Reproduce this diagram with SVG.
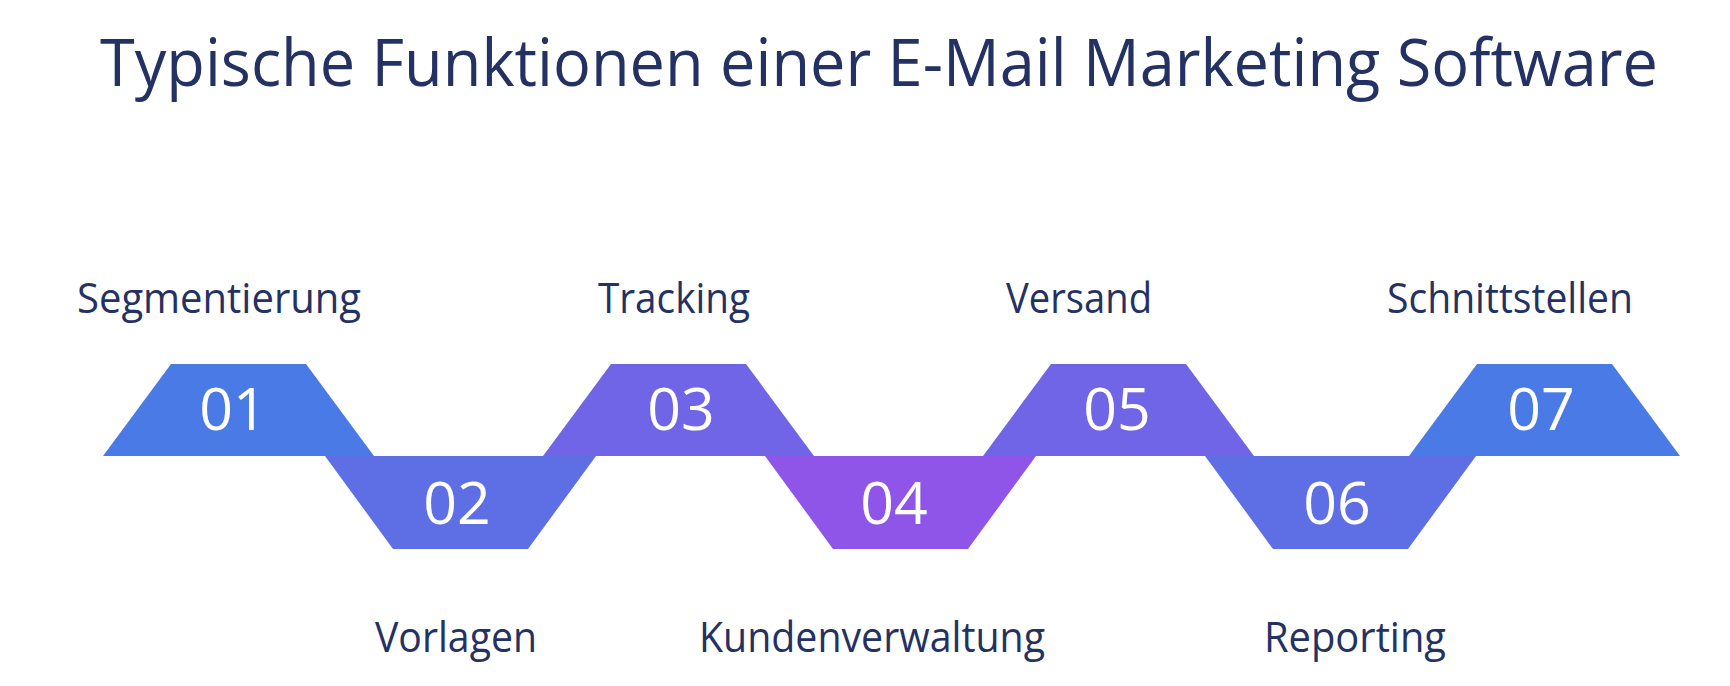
<svg xmlns="http://www.w3.org/2000/svg" width="1730" height="686" viewBox="0 0 1730 686">
<style>
.title{font-family:"Open Sans","Noto Sans","Liberation Sans",sans-serif;font-size:66px;fill:#243163;}
.lbl{font-family:"Open Sans","Noto Sans","Liberation Sans",sans-serif;font-size:42px;fill:#243163;}
.num{font-family:"Open Sans","Noto Sans","Liberation Sans",sans-serif;font-size:59px;fill:#ffffff;text-anchor:middle;}
.c1{fill:#4A7AE6;}
.c2{fill:#5E6FE6;}
.c3{fill:#7065E6;}
.c4{fill:#8E55E8;}
</style>
<rect width="1730" height="686" fill="#ffffff"/>
<text class="title" x="100" y="86" textLength="1558" lengthAdjust="spacingAndGlyphs">Typische Funktionen einer E-Mail Marketing Software</text>
<g id="connectors"/>
<g id="node01">
<polygon class="c1" points="171,364 306,364 374,456 103,456"/>
<text class="num" x="233" y="430">01</text>
<text class="lbl" x="77" y="313" textLength="284" lengthAdjust="spacingAndGlyphs">Segmentierung</text>
</g>
<g id="node02">
<polygon class="c2" points="325,456 596,456 528,549 393,549"/>
<text class="num" x="457" y="524">02</text>
<text class="lbl" x="375" y="652" textLength="162" lengthAdjust="spacingAndGlyphs">Vorlagen</text>
</g>
<g id="node03">
<polygon class="c3" points="611,364 746,364 814,456 543,456"/>
<text class="num" x="681" y="430">03</text>
<text class="lbl" x="598" y="313" textLength="152" lengthAdjust="spacingAndGlyphs">Tracking</text>
</g>
<g id="node04">
<polygon class="c4" points="765,456 1036,456 968,549 833,549"/>
<text class="num" x="894" y="524">04</text>
<text class="lbl" x="699" y="652" textLength="346" lengthAdjust="spacingAndGlyphs">Kundenverwaltung</text>
</g>
<g id="node05">
<polygon class="c3" points="1051,364 1186,364 1254,456 983,456"/>
<text class="num" x="1117" y="430">05</text>
<text class="lbl" x="1006" y="313" textLength="146" lengthAdjust="spacingAndGlyphs">Versand</text>
</g>
<g id="node06">
<polygon class="c2" points="1205,456 1476,456 1408,549 1273,549"/>
<text class="num" x="1337" y="524">06</text>
<text class="lbl" x="1264" y="652" textLength="182" lengthAdjust="spacingAndGlyphs">Reporting</text>
</g>
<g id="node07">
<polygon class="c1" points="1477,364 1612,364 1680,456 1409,456"/>
<text class="num" x="1541" y="430">07</text>
<text class="lbl" x="1387" y="313" textLength="246" lengthAdjust="spacingAndGlyphs">Schnittstellen</text>
</g>
</svg>
